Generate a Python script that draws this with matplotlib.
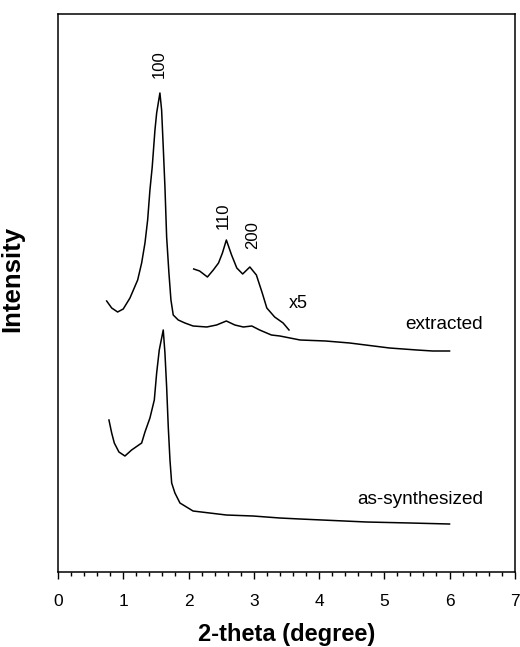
import matplotlib
matplotlib.use("Agg")
import matplotlib.pyplot as plt
from matplotlib.ticker import MultipleLocator

plt.rcParams['font.family'] = ['Liberation Sans', 'DejaVu Sans']

# --- data (intensity in arbitrary units) ---
extracted_x = [0.746, 0.823, 0.914, 1.000, 1.103, 1.221, 1.282, 1.333, 1.374, 1.409,
               1.444, 1.486, 1.512, 1.562, 1.588, 1.613, 1.639, 1.665, 1.700, 1.731,
               1.766, 1.843, 1.945, 2.07, 2.28, 2.43, 2.58, 2.71, 2.84, 2.97,
               3.09, 3.27, 3.40, 3.71, 4.10, 4.47, 5.08, 5.50, 5.74, 6.00]
extracted_y = [271, 264, 260, 263, 274, 292, 309, 329, 352, 382,
               405, 442, 459, 479, 462, 425, 385, 335, 299, 272,
               257, 252, 249, 246, 245, 247, 251, 247, 245, 246,
               242, 237, 236, 232, 231, 229, 224, 222, 221, 221]

zoom_x = [2.08, 2.17, 2.29, 2.38, 2.46, 2.52, 2.58, 2.66, 2.74, 2.83,
          2.94, 3.04, 3.13, 3.20, 3.32, 3.45, 3.54]
zoom_y = [303, 301, 295, 302, 309, 319, 332, 317, 304, 298,
          305, 297, 279, 264, 255, 249, 242]

synth_x = [0.781, 0.823, 0.863, 0.934, 1.026, 1.128, 1.282, 1.333, 1.409, 1.476,
           1.512, 1.552, 1.613, 1.639, 1.665, 1.690, 1.716, 1.742, 1.792, 1.869,
           2.07, 2.58, 2.99, 3.40, 3.71, 4.73, 5.40, 6.00]
synth_y = [152, 139, 129, 120, 116, 122, 129, 140, 154, 172,
           199, 222, 242, 219, 185, 145, 112, 89, 79, 69,
           61, 57, 56, 54, 53, 50, 49, 48]

peak_labels = ["100", "110", "200"]
peak_label_x = [1.555, 2.527, 2.979]
peak_label_y = [508, 356, 337]

fig = plt.figure(figsize=(5.2, 6.47), dpi=100)
ax = fig.add_axes([0.1115, 0.1159, 0.8785, 0.8625])

for xs, ys in [(extracted_x, extracted_y), (zoom_x, zoom_y), (synth_x, synth_y)]:
    ax.plot(xs, ys, color='black', linewidth=1.1)

for lab, lx, ly in zip(peak_labels, peak_label_x, peak_label_y):
    ax.text(lx, ly, lab, rotation=90, ha='center', va='center', fontsize=12)

ax.text(3.676, 268, "x5", ha='center', va='center', fontsize=13)
ax.text(6.51, 247, "extracted", ha='right', va='center', fontsize=13.7)
ax.text(6.51, 73, "as-synthesized", ha='right', va='center', fontsize=13.7)

ax.set_xlim(0, 7)
ax.set_ylim(0, 558)
ax.xaxis.set_major_locator(MultipleLocator(1))
ax.xaxis.set_minor_locator(MultipleLocator(0.2))
ax.tick_params(axis='x', which='major', direction='out', length=5, width=1, pad=11, labelsize=12.5)
ax.tick_params(axis='x', which='minor', direction='out', length=3, width=1)
ax.set_yticks([])
for sp in ax.spines.values():
    sp.set_linewidth(1.1)

ax.set_xlabel("2-theta (degree)", fontsize=17, fontweight='bold', labelpad=10)
ax.set_ylabel("Intensity", fontsize=18.5, fontweight='bold')
ax.yaxis.set_label_coords(-0.073, 0.525)

fig.savefig("out.png", dpi=100)
